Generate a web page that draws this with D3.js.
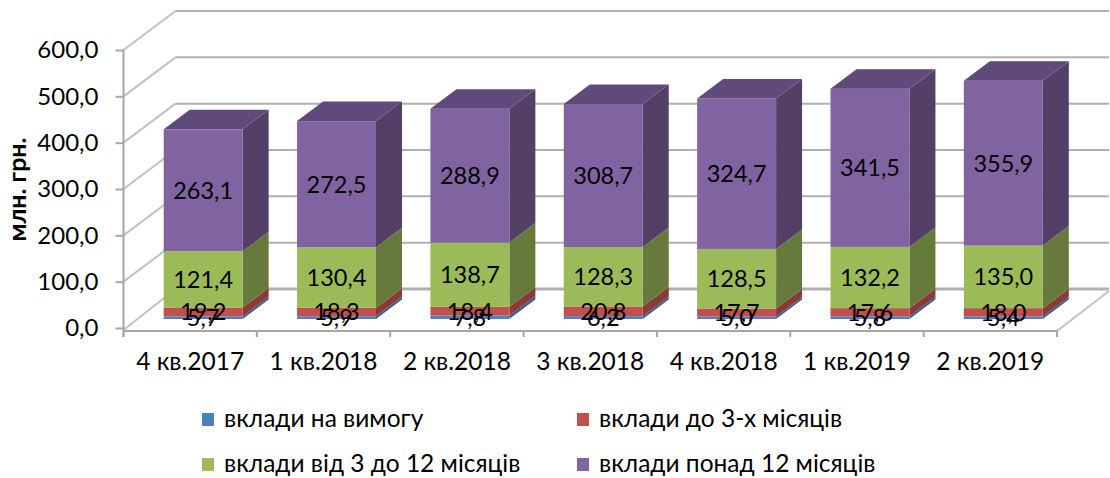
<!DOCTYPE html>
<html>
<head>
  <meta charset="utf-8">
  <title>Вклади</title>
  <style>
    html, body { margin: 0; padding: 0; background: white; }
    svg { display: block; }
    text { font-family: Lato, "Open Sans", sans-serif; fill: #000; }
    .grid { fill: none; stroke: #b0b0b0; stroke-width: 2; }
    .diag { fill: none; stroke: #c2c2c2; stroke-width: 2; }
    .axis-line { fill: none; stroke: #a6a6a6; stroke-width: 2; }
  </style>
  <script src="https://d3js.org/d3.v7.min.js"></script>
</head>
<body>
  <div id="chart"></div>
  <script>
    const quarters = ["4 кв.2017", "1 кв.2018", "2 кв.2018", "3 кв.2018", "4 кв.2018", "1 кв.2019", "2 кв.2019"];
    const seriesNames = ["вклади на вимогу", "вклади до 3-х місяців", "вклади від 3 до 12 місяців", "вклади понад 12 місяців"];
    const onDemand = [5.7, 5.9, 7.8, 6.2, 5.0, 5.8, 5.4];
    const upTo3 = [19.2, 18.3, 18.4, 20.8, 17.7, 17.6, 18.0];
    const from3to12 = [121.4, 130.4, 138.7, 128.3, 128.5, 132.2, 135.0];
    const over12 = [263.1, 272.5, 288.9, 308.7, 324.7, 341.5, 355.9];
    const yTicks = [0, 100, 200, 300, 400, 500, 600];

    const colors = ["#4f81bd", "#c0504d", "#9bbb59", "#8064a2"];
    const sideColors = ["#3a5f8c", "#8b3a38", "#667a3c", "#544066"];
    const topColor = "#604a7b";

    const width = 1110;
    const height = 478;

    // depth of the 3d box, and of a bar inside it
    const wallDx = 52, wallDy = 39;
    const barDx = 26, barDy = 19.5;
    const frontDx = 13, frontDy = 9;

    const svg = d3.select("#chart").append("svg")
      .attr("width", width)
      .attr("height", height);

    const x = d3.scaleBand()
      .domain(quarters)
      .range([123.5, 1057])
      .paddingInner(0.408)
      .paddingOuter(0.204);

    const y = d3.scaleLinear()
      .domain([0, 600])
      .range([328, 50]);

    const comma = d3.formatLocale({ decimal: ",", thousands: " ", grouping: [3], currency: ["", ""] }).format(".1f");

    const rows = quarters.map((q, i) => ({
      quarter: q,
      [seriesNames[0]]: onDemand[i],
      [seriesNames[1]]: upTo3[i],
      [seriesNames[2]]: from3to12[i],
      [seriesNames[3]]: over12[i]
    }));
    const stacked = d3.stack().keys(seriesNames)(rows);

    // walls and floor
    const x0 = x.range()[0], x1 = x.range()[1];
    svg.append("g").selectAll("path")
      .data(yTicks)
      .enter()
      .append("path")
      .attr("class", "diag")
      .attr("d", d => `M${x0},${d === 0 ? y(d) + 2 : y(d)}L${x0 + wallDx},${y(d) - wallDy}`);
    svg.append("g").selectAll("path")
      .data(yTicks)
      .enter()
      .append("path")
      .attr("class", "grid")
      .attr("stroke-width", d => d === 0 ? 3 : 2)
      .style("stroke-width", d => d === 0 ? "3px" : null)
      .attr("d", d => `M${x0 + wallDx},${y(d) - wallDy}L${x1 + wallDx},${y(d) - wallDy}`);
    svg.append("path")
      .attr("class", "diag")
      .attr("d", `M${x1},${y(0) + 3}L${x1 + wallDx},${y(0) - wallDy + 2}`);

    // front axes
    svg.append("path")
      .attr("class", "axis-line")
      .attr("d", `M${x0},${y(600)}L${x0},${y(0) + 9}M${x0},${y(0) + 3}L${x1},${y(0) + 3}`);
    svg.append("g").selectAll("line")
      .data(d3.range(quarters.length + 1))
      .enter()
      .append("line")
      .attr("class", "axis-line")
      .attr("x1", i => x0 + i * x.step())
      .attr("x2", i => x0 + i * x.step())
      .attr("y1", y(0) + 3)
      .attr("y2", y(0) + 9);

    const yAxis = svg.append("g")
      .attr("transform", `translate(${x0},0)`)
      .call(d3.axisLeft(y).tickValues(yTicks).tickFormat(comma).tickSize(8).tickPadding(17));
    yAxis.select(".domain").remove();
    yAxis.selectAll(".tick line").attr("stroke", "#a6a6a6").attr("stroke-width", 2);
    yAxis.selectAll("text").attr("font-size", 24).attr("font-family", null).attr("fill", "#000");

    const xAxis = svg.append("g")
      .attr("transform", `translate(0,${y(0) + 25})`)
      .call(d3.axisBottom(x).tickSize(0).tickPadding(0));
    xAxis.select(".domain").remove();
    xAxis.selectAll("text").attr("font-size", 24.5).attr("font-family", null).attr("fill", "#000");

    // stacked boxes
    const barX = d => x(d.data.quarter) + frontDx;
    const barY = v => y(v) - frontDy;
    const bw = x.bandwidth();

    const layers = svg.selectAll("g.layer")
      .data(stacked)
      .enter()
      .append("g")
      .attr("class", "layer");

    layers.selectAll("path.side")
      .data((s, i) => s.map(d => ({ d, i })))
      .enter()
      .append("path")
      .attr("class", "side")
      .attr("fill", e => sideColors[e.i])
      .attr("d", e => {
        const r = barX(e.d) + bw;
        const t = barY(e.d[1]), b = barY(e.d[0]);
        return `M${r},${t}L${r + barDx},${t - barDy}L${r + barDx},${b - barDy}L${r},${b}Z`;
      });

    layers.selectAll("rect")
      .data((s, i) => s.map(d => ({ d, i })))
      .enter()
      .append("rect")
      .attr("fill", e => colors[e.i])
      .attr("x", e => barX(e.d))
      .attr("y", e => barY(e.d[1]))
      .attr("width", bw)
      .attr("height", e => barY(e.d[0]) - barY(e.d[1]));

    // only the last series shows its top face
    svg.append("g").selectAll("path")
      .data(stacked[3])
      .enter()
      .append("path")
      .attr("fill", topColor)
      .attr("d", d => {
        const l = barX(d), t = barY(d[1]);
        return `M${l},${t}L${l + barDx},${t - barDy}L${l + bw + barDx},${t - barDy}L${l + bw},${t}Z`;
      });

    // value labels, smallest series first so the next one sits over it
    [0, 1, 2, 3].forEach(i => {
      svg.append("g").selectAll("text")
        .data(stacked[i])
        .enter()
        .append("text")
        .attr("x", d => barX(d) + bw / 2)
        .attr("y", d => barY((d[0] + d[1]) / 2))
        .attr("dy", "0.36em")
        .attr("text-anchor", "middle")
        .attr("font-size", 23.5)
        .text(d => comma(d[1] - d[0]));
    });

    svg.append("text")
      .attr("transform", "translate(26,189.5) rotate(-90)")
      .attr("text-anchor", "middle")
      .attr("font-size", 25)
      .attr("font-weight", "bold")
      .text("млн. грн.");

    // legend
    const legendX = d3.scalePoint().domain([0, 1]).range([202, 577]);
    const legendY = d3.scalePoint().domain([0, 1]).range([419, 464]);
    const legend = svg.append("g").selectAll("g")
      .data(seriesNames)
      .enter()
      .append("g")
      .attr("transform", (d, i) => `translate(${legendX(i % 2)},${legendY(Math.floor(i / 2))})`);
    legend.append("rect")
      .attr("y", -6)
      .attr("width", 12)
      .attr("height", 13)
      .attr("fill", (d, i) => colors[i]);
    legend.append("text")
      .attr("x", 22)
      .attr("dy", "0.33em")
      .attr("font-size", 24.5)
      .text(d => d);
  </script>
</body>
</html>
